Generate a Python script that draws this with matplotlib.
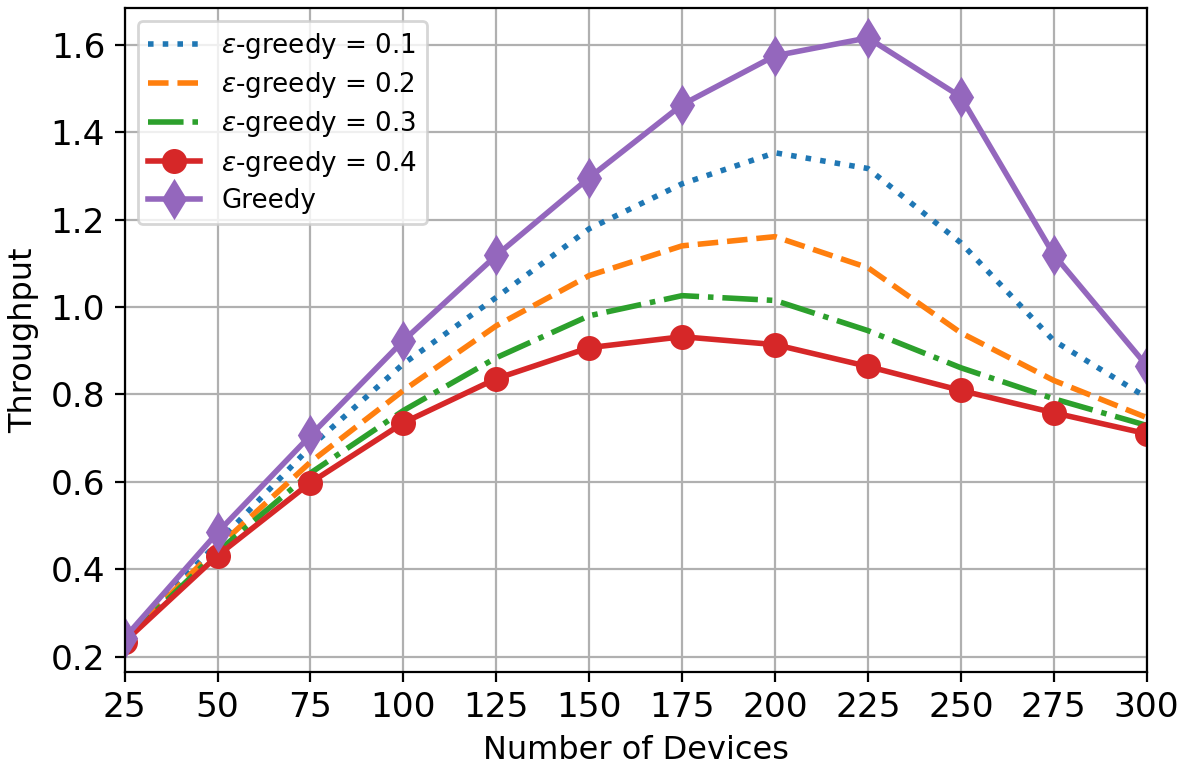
import matplotlib
matplotlib.use("Agg")
import matplotlib.pyplot as plt

devices = [25, 50, 75, 100, 125, 150, 175, 200, 225, 250, 275, 300]

eps_01 = [0.240, 0.460, 0.680, 0.870, 1.022, 1.179, 1.282, 1.353, 1.317, 1.147, 0.923, 0.793]
eps_02 = [0.238, 0.450, 0.645, 0.809, 0.957, 1.072, 1.140, 1.161, 1.090, 0.941, 0.832, 0.747]
eps_03 = [0.236, 0.440, 0.620, 0.763, 0.884, 0.980, 1.026, 1.015, 0.946, 0.861, 0.790, 0.729]
eps_04 = [0.234, 0.431, 0.598, 0.735, 0.836, 0.907, 0.932, 0.914, 0.864, 0.809, 0.758, 0.710]
greedy = [0.243, 0.484, 0.706, 0.923, 1.118, 1.296, 1.463, 1.575, 1.616, 1.481, 1.120, 0.866]

fig, ax = plt.subplots(figsize=(5.935, 3.835), dpi=200)

ax.plot(devices, eps_01, ":", color="tab:blue", lw=2, label=r"$\varepsilon$-greedy = 0.1")
ax.plot(devices, eps_02, "--", color="tab:orange", lw=2, label=r"$\varepsilon$-greedy = 0.2")
ax.plot(devices, eps_03, "-.", color="tab:green", lw=2, label=r"$\varepsilon$-greedy = 0.3")
ax.plot(devices, eps_04, "-o", color="tab:red", lw=2, ms=8, label=r"$\varepsilon$-greedy = 0.4")
ax.plot(devices, greedy, "-d", color="tab:purple", lw=2, ms=9, label="Greedy")

ax.set_xlim(25, 300)
ax.set_xticks(devices)
ax.tick_params(labelsize=12.4)
ax.set_xlabel("Number of Devices", fontsize=11.5)
ax.set_ylabel("Throughput", fontsize=11.5)
ax.grid(True)
ax.legend(loc="upper left", fontsize=9.4, labelspacing=0.35)

fig.subplots_adjust(left=0.105, right=0.966, bottom=0.124, top=0.99)
fig.savefig("out.png", dpi=200)
